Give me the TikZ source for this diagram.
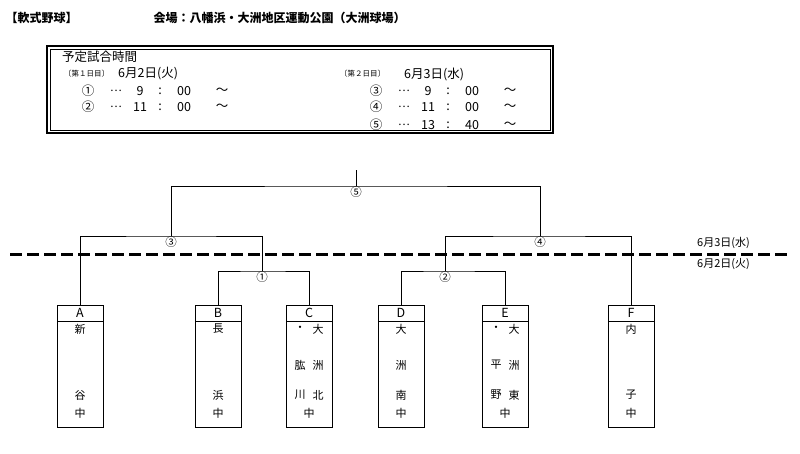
\documentclass[tikz,border=0pt]{standalone}
\usepackage{fontspec}
\setmainfont{Noto Sans CJK JP}
\usetikzlibrary{positioning}

\tikzset{
  line/.style={line width=1pt},
  team/.style={draw, line width=1pt, minimum width=46pt, minimum height=122pt, anchor=north, inner sep=0pt},
  ch/.style={font=\fontsize{11}{11}\selectfont, inner sep=0pt},
  big/.style={font=\fontsize{12.5}{12.5}\selectfont, inner sep=0pt},
  rnd/.style={font=\fontsize{11.5}{11.5}\selectfont, inner sep=0.5pt, fill=white},
}

\begin{document}
\begin{tikzpicture}[x=1pt,y=1pt,yscale=-1]
\useasboundingbox (0,0) rectangle (800,453);

% title
\node[anchor=west, font=\fontsize{12}{12}\selectfont\bfseries] (ttl) at (2,18) {【軟式野球】};
\node[anchor=west, font=\fontsize{12}{12}\selectfont\bfseries] (venue) at (150,18) {会場：八幡浜・大洲地区運動公園（大洲球場）};

% schedule box
\draw[line width=1.2pt] (47,46) rectangle (553,133);
\draw[line width=0.6pt] (50,49) rectangle (550,130);
\node[anchor=west, big] (sch) at (62,57) {予定試合時間};
\node[anchor=west, ch, font=\fontsize{7.5}{7.5}\selectfont] (d1) at (64,74) {〔第１日目〕};
\node[anchor=west, big] (d1d) at (118,74) {6月2日(火)};
\node[anchor=west, ch, font=\fontsize{7.5}{7.5}\selectfont] (d2) at (340,74) {〔第２日目〕};
\node[anchor=west, big] (d2d) at (404,74) {6月3日(水)};
\foreach \n/\x/\y/\h/\m in {①/88/91/9/00, ②/88/107/11/00, ③/376/91/9/00, ④/376/107/11/00, ⑤/376/125/13/40}{
  \node[big] at (\x,\y) {\n};
  \node[ch] at (\x+28,\y) {…};
  \node[big] at (\x+52,\y) {\h};
  \node[big] at (\x+72,\y) {:};
  \node[big] at (\x+96,\y) {\m};
  \node[big] at (\x+134,\y) {～};
}

% day divider
\draw[line width=3pt, dash pattern=on 12pt off 5pt] (10,254) -- (790,254);
\node[anchor=west, ch, font=\fontsize{11}{11}\selectfont] (day2) at (697,243) {6月3日(水)};
\node[anchor=west, ch, font=\fontsize{11}{11}\selectfont] (day1) at (697,264) {6月2日(火)};

% teams
\foreach \id/\x in {A/80, B/218, C/309, D/401, E/505, F/631}{
  \node[team] (\id) at (\x,305) {};
  \draw[line width=1pt] (\x-23,321) -- (\x+23,321);
  \node[big] at (\x,313) {\id};
}
\foreach \id/\a/\b/\c in {A/新//谷, B/長//浜, D/大/洲/南, F/内//子}{
  \node[ch] at ([yshift=24pt]\id.north) {\a};
  \node[ch] at ([yshift=60pt]\id.north) {\b};
  \node[ch] at ([yshift=90pt]\id.north) {\c};
  \node[ch] at ([yshift=108pt]\id.north) {中};
}
\foreach \id/\a/\b/\c/\d/\e/\f in {C/・/大/肱/洲/川/北, E/・/大/平/洲/野/東}{
  \node[ch] at ([xshift=-9pt,yshift=24pt]\id.north) {\a};
  \node[ch] at ([xshift=9pt,yshift=24pt]\id.north) {\b};
  \node[ch] at ([xshift=-9pt,yshift=60pt]\id.north) {\c};
  \node[ch] at ([xshift=9pt,yshift=60pt]\id.north) {\d};
  \node[ch] at ([xshift=-9pt,yshift=90pt]\id.north) {\e};
  \node[ch] at ([xshift=9pt,yshift=90pt]\id.north) {\f};
  \node[ch] at ([yshift=108pt]\id.north) {中};
}

% bracket
\coordinate (m1) at (262,271);
\coordinate (m2) at (445,271);
\coordinate (m3) at (171,236);
\coordinate (m4) at (540,236);
\coordinate (m5) at (356,186);
\coordinate (top) at (356,170);
\draw[line] (B.north) |- (m1) -| (C.north);
\draw[line] (D.north) |- (m2) -| (E.north);
\draw[line] (A.north) |- (m3) -| (m1);
\draw[line] (m2) |- (m4) -| (F.north);
\draw[line] (m3) |- (m5) -| (m4);
\draw[line] (m5) -- (top);
\foreach \c/\t in {m1/①, m2/②, m3/③, m4/④, m5/⑤}
  \node[rnd, below=0.5pt of \c] {\t};
\end{tikzpicture}
\end{document}
